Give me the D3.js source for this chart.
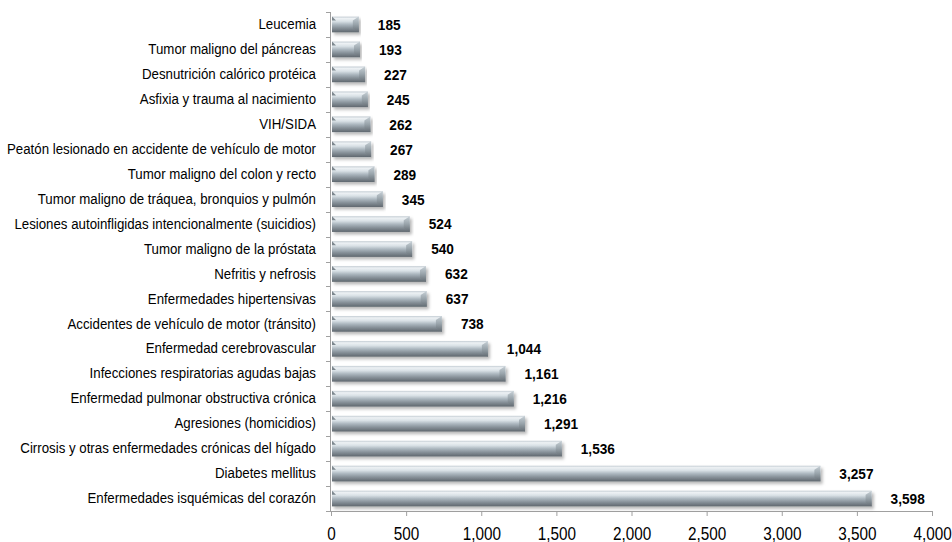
<!DOCTYPE html>
<html>
<head>
<meta charset="utf-8">
<script src="https://cdn.jsdelivr.net/npm/d3@7/dist/d3.min.js"></script>
<style>
  html, body { margin: 0; padding: 0; background: #fff; }
  svg { display: block; }
  text { font-family: "Liberation Sans", Arial, sans-serif; }
</style>
</head>
<body>
<svg id="chart" width="952" height="542"></svg>
<script>
const categories = [
  "Leucemia",
  "Tumor maligno del páncreas",
  "Desnutrición calórico protéica",
  "Asfixia y trauma al nacimiento",
  "VIH/SIDA",
  "Peatón lesionado en accidente de vehículo de motor",
  "Tumor maligno del colon y recto",
  "Tumor maligno de tráquea, bronquios y pulmón",
  "Lesiones autoinfligidas intencionalmente (suicidios)",
  "Tumor maligno de la próstata",
  "Nefritis y nefrosis",
  "Enfermedades hipertensivas",
  "Accidentes de vehículo de motor (tránsito)",
  "Enfermedad cerebrovascular",
  "Infecciones respiratorias agudas bajas",
  "Enfermedad pulmonar obstructiva crónica",
  "Agresiones (homicidios)",
  "Cirrosis y otras enfermedades crónicas del hígado",
  "Diabetes mellitus",
  "Enfermedades isquémicas del corazón"
];
const values = [185, 193, 227, 245, 262, 267, 289, 345, 524, 540, 632, 637, 738, 1044, 1161, 1216, 1291, 1536, 3257, 3598];
const xTicks = [0, 500, 1000, 1500, 2000, 2500, 3000, 3500, 4000];

const svg = d3.select("#chart");
const defs = svg.append("defs");

const grad = defs.append("linearGradient").attr("id", "barGrad")
  .attr("x1", 0).attr("y1", 0).attr("x2", 0).attr("y2", 1);
[[0, "#c3ccd3"], [0.12, "#edf1f4"], [0.3, "#d9e1e6"], [0.5, "#adb8c0"], [0.72, "#88929a"], [1, "#5f676e"]]
  .forEach(([o, c]) => grad.append("stop").attr("offset", o).attr("stop-color", c));

const capGrad = defs.append("linearGradient").attr("id", "capGrad")
  .attr("x1", 0).attr("y1", 0).attr("x2", 0).attr("y2", 1);
[[0, "#c8d1d7"], [0.5, "#98a3aa"], [1, "#636b72"]]
  .forEach(([o, c]) => capGrad.append("stop").attr("offset", o).attr("stop-color", c));

const shadow = defs.append("filter").attr("id", "shadow")
  .attr("x", "-5%").attr("y", "-30%").attr("width", "110%").attr("height", "180%");
shadow.append("feDropShadow").attr("dx", 2).attr("dy", 2.5).attr("stdDeviation", 1.5)
  .attr("flood-color", "#000").attr("flood-opacity", 0.28);

const x = d3.scaleLinear().domain([0, 4000]).range([331, 932]);
const y = d3.scaleBand().domain(categories).range([12, 511]).paddingInner(0.37).paddingOuter(0.185);

const axisColor = "#a0a0a0";
const catScale = 0.91, valScale = 0.91, tickScale = 0.85;

// Bottom axis
const gx = svg.append("g").attr("transform", "translate(0,511)")
  .call(d3.axisBottom(x).tickValues(xTicks).tickFormat(d3.format(",")).tickSize(5).tickSizeOuter(0).tickPadding(11));
gx.select(".domain").attr("stroke", axisColor);
gx.selectAll(".tick line").attr("stroke", axisColor);
gx.selectAll(".tick text")
  .attr("font-family", "Liberation Sans, Arial, sans-serif")
  .attr("font-size", 18).attr("fill", "#000")
  .attr("transform", `scale(${tickScale},1)`);

// Left axis (labels)
const gy = svg.append("g").attr("transform", "translate(331,0)")
  .call(d3.axisLeft(y).tickSize(0).tickPadding(15));
gy.select(".domain").remove();
gy.selectAll(".tick text")
  .attr("font-family", "Liberation Sans, Arial, sans-serif")
  .attr("font-size", 14.6).attr("fill", "#000")
  .attr("x", -15 / catScale)
  .attr("transform", `scale(${catScale},1)`);

// left axis line and boundary ticks
svg.append("line").attr("x1", 330.5).attr("x2", 330.5).attr("y1", 12).attr("y2", 511)
  .attr("stroke", axisColor);
const boundaries = d3.range(categories.length + 1).map(i => 12 + i * y.step());
svg.append("g").selectAll("line").data(boundaries).join("line")
  .attr("x1", 326).attr("x2", 331)
  .attr("y1", d => Math.round(d) + 0.5).attr("y2", d => Math.round(d) + 0.5)
  .attr("stroke", axisColor);

// Bars
const bars = svg.append("g").selectAll("g").data(categories).join("g")
  .attr("filter", "url(#shadow)");
const bh = y.bandwidth();
bars.append("rect")
  .attr("x", x(0) + 1)
  .attr("y", d => y(d))
  .attr("width", (d, i) => x(values[i]) - x(0) - 1)
  .attr("height", bh)
  .attr("fill", "url(#barGrad)");
// right bevel cap
bars.append("path")
  .attr("d", (d, i) => {
    const x1 = x(values[i]), y0 = y(d), y1 = y0 + bh, w = 6, b = 4;
    return `M${x1 - w},${y0 + b} L${x1},${y0} L${x1},${y1} L${x1 - w},${y1 - b} Z`;
  })
  .attr("fill", "url(#capGrad)");
// left bevel hint
bars.append("path")
  .attr("d", (d, i) => {
    const x0 = x(0) + 1, y0 = y(d), w = 4, b = 4;
    return `M${x0},${y0} L${x0 + w},${y0 + b} L${x0},${y0 + b} Z`;
  })
  .attr("fill", "#7d878e");

// Value labels
svg.append("g").selectAll("text").data(categories).join("text")
  .attr("transform", (d, i) => `translate(${x(values[i]) + 19},${y(d) + bh / 2}) scale(${valScale},1)`)
  .attr("dy", "0.36em")
  .attr("font-size", 15)
  .attr("font-weight", "bold")
  .attr("fill", "#000")
  .text((d, i) => d3.format(",")(values[i]));
</script>
</body>
</html>
